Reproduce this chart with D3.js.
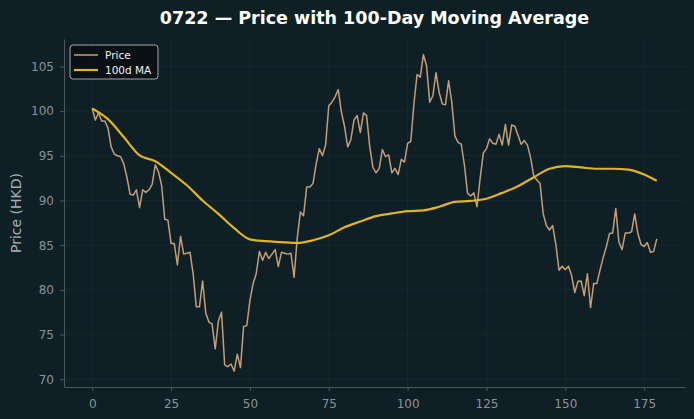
<!DOCTYPE html>
<html lang="en">
<head>
  <meta charset="UTF-8">
  <title>0722 — Price with 100-Day Moving Average</title>
  <script src="https://d3js.org/d3.v7.min.js"></script>
  <style>
    body { margin: 0; padding: 0; background: #0f1f26; }
    svg { display: block; font-family: "DejaVu Sans", sans-serif; }
  </style>
</head>
<body>
  <div id="chart"></div>
  <script>
    // daily closing price (day 0..179)
    const price = [
      100.3, 99.0, 99.8, 98.9, 98.9, 98.1, 96.0, 95.2, 95.0, 94.9,
      94.1, 92.6, 90.7, 90.6, 91.2, 89.2, 91.2, 90.9, 91.2, 91.8,
      94.0, 93.2, 91.7, 87.9, 87.8, 85.2, 85.2, 82.8, 86.0, 84.0,
      84.1, 84.2, 81.8, 78.1, 78.1, 81.0, 77.4, 76.4, 76.2, 73.4,
      76.5, 77.5, 71.6, 71.4, 71.7, 70.9, 72.8, 71.3, 75.9, 76.0,
      78.8, 80.7, 81.8, 84.3, 83.3, 84.2, 83.5, 84.0, 84.5, 82.6,
      84.2, 84.1, 84.0, 84.1, 81.4, 85.8, 88.7, 88.3, 91.5, 91.5,
      91.9, 94.1, 95.8, 95.0, 96.2, 100.6, 101.0, 101.6, 102.4, 99.9,
      98.3, 96.0, 96.8, 99.0, 99.5, 97.6, 99.8, 99.5, 96.0, 93.7,
      93.1, 93.6, 95.7, 94.9, 95.1, 93.1, 93.6, 92.9, 94.6, 94.3,
      96.4, 96.6, 100.8, 104.1, 103.8, 106.3, 105.1, 101.0, 101.7, 104.3,
      102.1, 100.8, 100.7, 103.4, 101.0, 97.2, 96.5, 96.3, 94.0, 90.8,
      90.5, 90.85, 89.3, 92.5, 95.3, 95.8, 96.9, 96.4, 96.3, 97.4,
      96.2, 98.5, 96.2, 98.45, 98.3, 97.3, 96.3, 96.7, 96.2, 94.8,
      92.7, 92.3, 91.9, 88.5, 87.2, 86.7, 87.2, 85.1, 82.2, 82.65,
      82.25, 82.65, 81.6, 79.7, 80.95, 81.0, 79.35, 81.8, 78.0, 80.7,
      80.7, 82.2, 83.6, 84.8, 86.3, 86.35, 89.1, 85.35, 84.5, 86.35,
      86.35, 86.5, 88.5, 86.3, 85.1, 84.85, 85.3, 84.2, 84.3, 85.7
    ];

    // 100-day moving average, read every 5 days
    const maDays = [0, 5, 10, 15, 20, 25, 30, 35, 40, 45, 50, 55, 60, 65, 70, 75, 80, 85, 90,
                    95, 100, 105, 110, 115, 120, 125, 130, 135, 140, 145, 150, 155, 160, 165, 170, 175, 179];
    const maValues = [100.3, 99.1, 97.1, 95.05, 94.4, 93.1, 91.7, 90.0, 88.5, 86.9, 85.65, 85.45, 85.35,
                      85.25, 85.55, 86.1, 87.0, 87.65, 88.25, 88.55, 88.8, 88.9, 89.3, 89.85, 89.95,
                      90.2, 90.85, 91.6, 92.6, 93.55, 93.85, 93.7, 93.55, 93.55, 93.45, 92.9, 92.2];

    const yTicks = [70, 75, 80, 85, 90, 95, 100, 105];
    const xTicks = [0, 25, 50, 75, 100, 125, 150, 175];

    const W = 694, H = 419;
    const margin = { top: 39, right: 9, bottom: 32, left: 64 };
    const innerW = W - margin.left - margin.right;
    const innerH = H - margin.top - margin.bottom;

    const colors = {
      bg: "#0f1f26",
      grid: "#1a2a31",
      spine: "#4d575c",
      tick: "#8b9297",
      price: "#c49e77",
      ma: "#e0b523"
    };

    // matplotlib-style 5% padding
    const xMax = price.length - 1;
    const xPad = xMax * 0.05;
    const yMin = d3.min(price), yMax = d3.max(price);
    const yPad = (yMax - yMin) * 0.05;

    const x = d3.scaleLinear().domain([-xPad, xMax + xPad]).range([0, innerW]);
    const y = d3.scaleLinear().domain([yMin - yPad, yMax + yPad]).range([innerH, 0]);

    const svg = d3.select("#chart").append("svg")
      .attr("width", W).attr("height", H)
      .style("background", colors.bg);

    svg.append("text")
      .attr("x", margin.left + innerW / 2)
      .attr("y", 24)
      .attr("text-anchor", "middle")
      .attr("fill", "#ffffff")
      .style("font-size", "17.5px")
      .style("font-weight", "bold")
      .text("0722 — Price with 100-Day Moving Average");

    const g = svg.append("g").attr("transform", `translate(${margin.left},${margin.top})`);

    // grid
    g.append("g").selectAll("line").data(yTicks).enter().append("line")
      .attr("x1", 0).attr("x2", innerW)
      .attr("y1", d => y(d)).attr("y2", d => y(d))
      .attr("stroke", colors.grid).attr("stroke-width", 0.8);
    g.append("g").selectAll("line").data(xTicks).enter().append("line")
      .attr("y1", 0).attr("y2", innerH)
      .attr("x1", d => x(d)).attr("x2", d => x(d))
      .attr("stroke", colors.grid).attr("stroke-width", 0.8);

    // axes
    const xAxis = g.append("g")
      .attr("transform", `translate(0,${innerH})`)
      .call(d3.axisBottom(x).tickValues(xTicks).tickSize(4).tickPadding(8).tickSizeOuter(0));
    const yAxis = g.append("g")
      .call(d3.axisLeft(y).tickValues(yTicks).tickSize(4).tickPadding(6).tickSizeOuter(0));

    [xAxis, yAxis].forEach(a => {
      a.select(".domain").attr("stroke", colors.spine);
      a.selectAll(".tick line").attr("stroke", colors.spine);
      a.selectAll(".tick text")
        .attr("fill", colors.tick)
        .style("font-size", "12px")
        .style("font-family", "DejaVu Sans, sans-serif");
    });

    svg.append("text")
      .attr("transform", `translate(21,${margin.top + innerH / 2}) rotate(-90)`)
      .attr("text-anchor", "middle")
      .attr("fill", "#a9adb0")
      .style("font-size", "14px")
      .text("Price (HKD)");

    // lines
    const priceLine = d3.line().x((d, i) => x(i)).y(d => y(d));
    g.append("path")
      .datum(price)
      .attr("d", priceLine)
      .attr("fill", "none")
      .attr("stroke", colors.price)
      .attr("stroke-width", 1.5)
      .attr("stroke-linejoin", "round");

    const maLine = d3.line()
      .x((d, i) => x(maDays[i]))
      .y(d => y(d))
      .curve(d3.curveMonotoneX);
    g.append("path")
      .datum(maValues)
      .attr("d", maLine)
      .attr("fill", "none")
      .attr("stroke", colors.ma)
      .attr("stroke-width", 2.2);

    // legend
    const legend = g.append("g").attr("transform", "translate(6,6)");
    legend.append("rect")
      .attr("width", 88).attr("height", 34).attr("rx", 3)
      .attr("fill", "#0a1014").attr("fill-opacity", 0.9)
      .attr("stroke", "#c8cbcd").attr("stroke-width", 0.8);
    const items = [
      { label: "Price", color: colors.price, w: 1.5 },
      { label: "100d MA", color: colors.ma, w: 2.2 }
    ];
    items.forEach((it, i) => {
      const ly = 10 + i * 15;
      legend.append("line")
        .attr("x1", 4).attr("x2", 28).attr("y1", ly).attr("y2", ly)
        .attr("stroke", it.color).attr("stroke-width", it.w);
      legend.append("text")
        .attr("x", 35).attr("y", ly).attr("dy", "0.35em")
        .attr("fill", "#f0f0f0")
        .style("font-size", "10.5px")
        .text(it.label);
    });
  </script>
</body>
</html>
